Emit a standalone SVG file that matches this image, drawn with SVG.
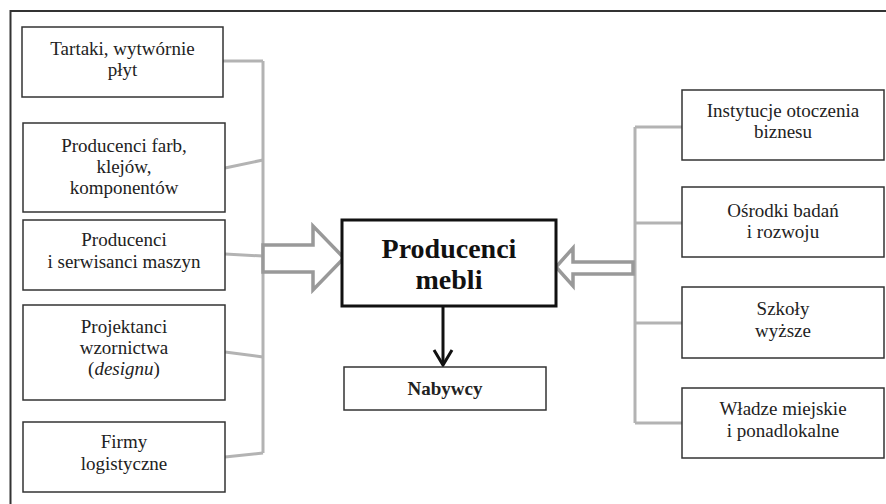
<svg xmlns="http://www.w3.org/2000/svg" width="886" height="504" viewBox="0 0 886 504">
<style>
.box{fill:#fff;stroke:#333;stroke-width:1.5}
.t{font-family:'Liberation Serif',serif;font-size:19px;fill:#222;text-anchor:middle}
.b{font-size:28px;font-weight:bold;fill:#111}
.nb{font-size:19px;font-weight:bold}
.conn{fill:none;stroke:#b3b3b3;stroke-width:3}
.big{fill:#fff;stroke:#999;stroke-width:3.5;stroke-linejoin:miter}
</style>
<rect width="886" height="504" fill="#fff"/>
<path d="M10.5 504 V11 H886" fill="none" stroke="#333" stroke-width="2"/>
<g id="connectors">
<path class="conn" d="M263 61 V453"/>
<path class="conn" d="M223 61 H263"/>
<path class="conn" d="M225 168 L263 160"/>
<path class="conn" d="M225 254 L263 256"/>
<path class="conn" d="M225 352 L263 357"/>
<path class="conn" d="M225 457 L263 453"/>
<path class="conn" d="M635 127 V423"/>
<path class="conn" d="M635 127 H682"/>
<path class="conn" d="M635 223 H682"/>
<path class="conn" d="M635 323 H682"/>
<path class="conn" d="M635 423 H682"/>
<polygon class="big" points="263,245 313,245 313,226 344,258 313,290 313,272 263,272"/>
<polygon class="big" points="633,262 573,262 573,248 556,267 573,286 573,274 633,274"/>
<path d="M443 306 V365" stroke="#111" stroke-width="3" fill="none"/>
<path d="M434 350 L443 365 L452 350" stroke="#111" stroke-width="3" fill="none"/>
</g>
<g id="n1"><rect class="box" x="22" y="27" width="201" height="70"/><text class="t" x="122.5" y="55">Tartaki, wytwórnie</text><text class="t" x="122.5" y="76">płyt</text></g>
<g id="n2"><rect class="box" x="23" y="123" width="202" height="89"/><text class="t" x="124" y="152">Producenci farb,</text><text class="t" x="124" y="173">klejów,</text><text class="t" x="124" y="194">komponentów</text></g>
<g id="n3"><rect class="box" x="23" y="220" width="202" height="70"/><text class="t" x="124" y="246">Producenci</text><text class="t" x="124" y="268">i serwisanci maszyn</text></g>
<g id="n4"><rect class="box" x="23" y="305" width="202" height="95"/><text class="t" x="124" y="333">Projektanci</text><text class="t" x="124" y="354">wzornictwa</text><text class="t" x="124" y="375">(<tspan font-style="italic">designu</tspan>)</text></g>
<g id="n5"><rect class="box" x="23" y="422" width="202" height="70"/><text class="t" x="124" y="448">Firmy</text><text class="t" x="124" y="470">logistyczne</text></g>
<g id="center"><rect x="342" y="220" width="214" height="86" fill="#fff" stroke="#111" stroke-width="3"/><text class="t b" x="449" y="258">Producenci</text><text class="t b" x="449" y="289">mebli</text></g>
<g id="nabywcy"><rect class="box" x="344" y="367" width="202" height="43"/><text class="t nb" x="445" y="395">Nabywcy</text></g>
<g id="r1"><rect class="box" x="682" y="90" width="202" height="70"/><text class="t" x="783" y="117">Instytucje otoczenia</text><text class="t" x="783" y="138">biznesu</text></g>
<g id="r2"><rect class="box" x="682" y="187" width="202" height="70"/><text class="t" x="783" y="217">Ośrodki badań</text><text class="t" x="783" y="238">i rozwoju</text></g>
<g id="r3"><rect class="box" x="682" y="287" width="202" height="71"/><text class="t" x="783" y="315">Szkoły</text><text class="t" x="783" y="337">wyższe</text></g>
<g id="r4"><rect class="box" x="682" y="388" width="202" height="70"/><text class="t" x="783" y="415">Władze miejskie</text><text class="t" x="783" y="437">i ponadlokalne</text></g>
</svg>
